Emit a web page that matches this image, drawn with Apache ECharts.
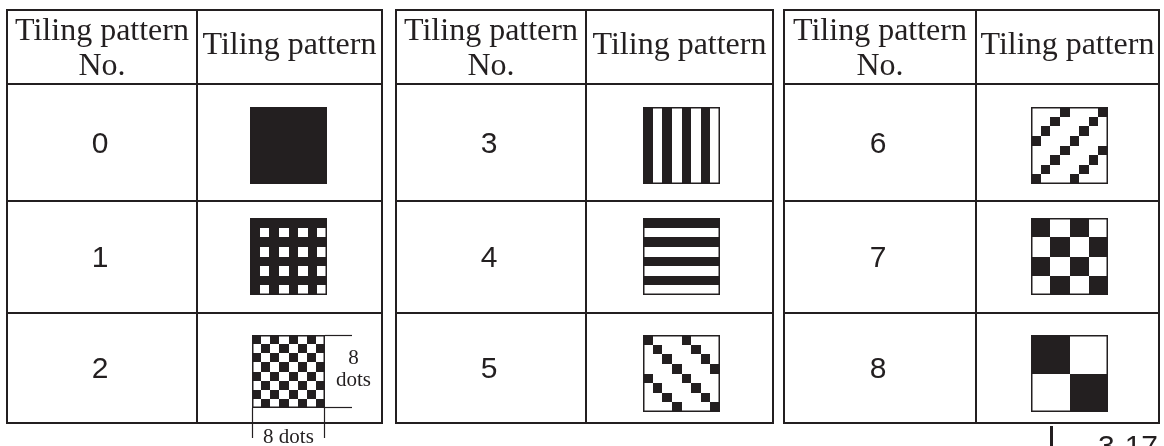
<!DOCTYPE html>
<html><head><meta charset="utf-8">
<script src="https://cdn.jsdelivr.net/npm/echarts@6/dist/echarts.min.js"></script>
<style>html,body{margin:0;padding:0;background:#fff}#c{width:1164px;height:446px}</style>
</head><body><div id="c"></div>
<script>
// ---- data ----
const patternNumbers = [0, 1, 2, 3, 4, 5, 6, 7, 8];
const headerNoLines = ['Tiling pattern', 'No.'];
const headerPatternLabel = 'Tiling pattern';
const dotsSideLines = ['8', 'dots'];
const dotsBottomLabel = '8 dots';
const pageLabel = '3-17';

const pattern0 = ['11111111','11111111','11111111','11111111','11111111','11111111','11111111','11111111'];
const pattern1 = ['11111111','10101010','11111111','10101010','11111111','10101010','11111111','10101010'];
const pattern2 = ['10101010','01010101','10101010','01010101','10101010','01010101','10101010','01010101'];
const pattern3 = ['10101010','10101010','10101010','10101010','10101010','10101010','10101010','10101010'];
const pattern4 = ['11111111','00000000','11111111','00000000','11111111','00000000','11111111','00000000'];
const pattern5 = ['10001000','01000100','00100010','00010001','10001000','01000100','00100010','00010001'];
const pattern6 = ['00010001','00100010','01000100','10001000','00010001','00100010','01000100','10001000'];
const pattern7 = ['11001100','11001100','00110011','00110011','11001100','11001100','00110011','00110011'];
const pattern8 = ['11110000','11110000','11110000','11110000','00001111','00001111','00001111','00001111'];
const patternBitmaps = [pattern0, pattern1, pattern2, pattern3, pattern4, pattern5, pattern6, pattern7, pattern8];

// ---- layout (pixel units of the page) ----
const INK = '#231f20';
const tableCols = [[7, 197, 382], [396, 586, 773], [784, 976, 1159]];
const rowLines = [10, 84, 201, 313, 423];
const patLeft = [250, 643, 1031];
const patTop = [107, 218, 335];
const SERIF = '"Liberation Serif", "Times New Roman", serif';
const SANS = '"Liberation Sans", Arial, sans-serif';

function P(api, x, y) { return api.coord([x, y]); }
function box(api, x1, y1, x2, y2, fill) {
  const a = P(api, x1, y1), b = P(api, x2, y2);
  return { type: 'rect', shape: { x: a[0], y: a[1], width: b[0] - a[0], height: b[1] - a[1] }, style: { fill: fill || INK } };
}
function hRect(api, x1, x2, y, w) { return box(api, x1, y - w / 2, x2, y + w / 2); }
function vRect(api, x, y1, y2, w) { return box(api, x - w / 2, y1, x + w / 2, y2); }
function txt(api, s, x, y, font, align) {
  const p = P(api, x, y);
  return { type: 'text', style: { text: s, x: p[0], y: p[1], font: font, fill: INK,
    align: align || 'center', verticalAlign: 'middle', textAlign: align || 'center', textVerticalAlign: 'middle' } };
}

function boxOf(k) {
  const t = Math.floor(k / 3), r = k % 3;
  let size = 77, x = patLeft[t], y = patTop[r];
  if (k === 2) { size = 73; x = 252; }
  return { x: x, y: y, size: size, t: t, r: r };
}

const tableSeries = {
  type: 'custom', coordinateSystem: 'cartesian2d', clip: false, silent: true,
  data: [[0, 0], [1, 0], [2, 0]],
  renderItem: function (params, api) {
    const t = api.value(0);
    const [L, D, R] = tableCols[t];
    const ch = [];
    rowLines.forEach(function (y) { ch.push(hRect(api, L - 1, R + 1, y, 2)); });
    [L, D, R].forEach(function (x) { ch.push(vRect(api, x, rowLines[0] - 1, rowLines[4] + 1, 2)); });
    const c1 = (L + D) / 2, c2 = (D + R) / 2;
    ch.push(txt(api, headerNoLines[0], c1, 32, '32px ' + SERIF));
    ch.push(txt(api, headerNoLines[1], c1, 67, '32px ' + SERIF));
    ch.push(txt(api, headerPatternLabel, c2, 46, '32px ' + SERIF));
    return { type: 'group', children: ch };
  }
};

const numberSeries = {
  type: 'custom', coordinateSystem: 'cartesian2d', clip: false, silent: true,
  data: patternNumbers.map(function (n) { return [n, 0]; }),
  renderItem: function (params, api) {
    const k = api.value(0);
    const b = boxOf(k);
    const [L, D] = tableCols[b.t];
    const cy = (rowLines[b.r + 1] + rowLines[b.r + 2]) / 2 + 2;
    return txt(api, String(k), (L + D) / 2 - 2, cy, '30px ' + SANS);
  }
};

const patternSeries = {
  type: 'custom', coordinateSystem: 'cartesian2d', clip: false, silent: true,
  data: patternNumbers.map(function (n) { return [n, 0]; }),
  renderItem: function (params, api) {
    const k = api.value(0);
    const b = boxOf(k);
    const bits = patternBitmaps[k];
    const cell = b.size / 8;
    const gx = function (c) { return Math.round(b.x + c * cell); };
    const gy = function (r) { return Math.round(b.y + r * cell); };
    const ch = [];
    ch.push(box(api, b.x, b.y, b.x + b.size, b.y + b.size, '#fff'));
    for (let r = 0; r < 8; r++) {
      const row = bits[r];
      let c = 0;
      while (c < 8) {
        if (row[c] === '1') {
          let c2 = c;
          while (c2 < 8 && row[c2] === '1') c2++;
          ch.push(box(api, gx(c), gy(r), gx(c2), gy(r + 1), INK));
          c = c2;
        } else c++;
      }
    }
    const o = P(api, b.x + 0.75, b.y + 0.75), e = P(api, b.x + b.size - 0.75, b.y + b.size - 0.75);
    ch.push({ type: 'rect', shape: { x: o[0], y: o[1], width: e[0] - o[0], height: e[1] - o[1] }, style: { fill: null, stroke: INK, lineWidth: 1.5 } });
    return { type: 'group', children: ch };
  }
};

const annotationSeries = {
  type: 'custom', coordinateSystem: 'cartesian2d', clip: false, silent: true,
  data: [[2, 0]],
  renderItem: function (params, api) {
    const b = boxOf(api.value(0));
    const xr = b.x + b.size, yb = b.y + b.size;
    const ch = [];
    ch.push(hRect(api, xr, 352, b.y + 0.5, 1.2));
    ch.push(hRect(api, xr, 352, yb - 0.5, 1.2));
    ch.push(vRect(api, b.x + 0.5, yb, 438, 1.2));
    ch.push(vRect(api, xr - 0.5, yb, 438, 1.2));
    ch.push(txt(api, dotsSideLines[0], 353.5, 358, '21px ' + SERIF));
    ch.push(txt(api, dotsSideLines[1], 353.5, 380, '21px ' + SERIF));
    ch.push(txt(api, dotsBottomLabel, b.x + b.size / 2, 437, '21px ' + SERIF));
    ch.push(vRect(api, 1051.5, 426, 446, 3));
    ch.push(txt(api, pageLabel, 1098, 448, '30px ' + SANS, 'left'));
    return { type: 'group', children: ch };
  }
};

const chart = echarts.init(document.getElementById('c'), null, { renderer: 'canvas' });
chart.setOption({
  animation: false,
  backgroundColor: '#fff',
  grid: { left: 0, right: 0, top: 0, bottom: 0 },
  xAxis: { type: 'value', min: 0, max: 1164, show: false },
  yAxis: { type: 'value', min: 0, max: 446, inverse: true, show: false },
  series: [tableSeries, patternSeries, numberSeries, annotationSeries]
});
</script></body></html>
